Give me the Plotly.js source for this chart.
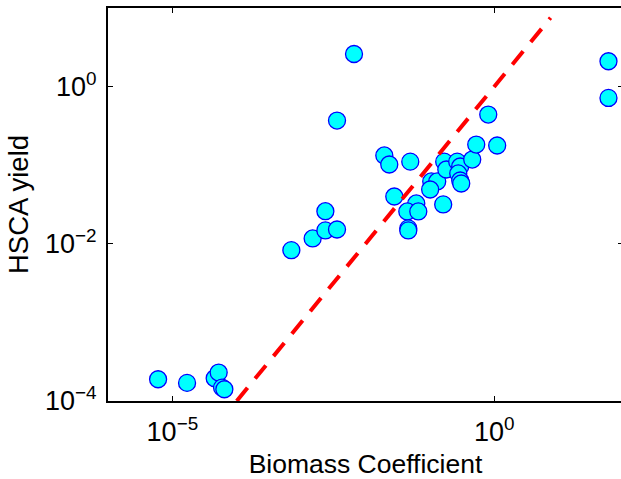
<!DOCTYPE html>
<html>
<head>
<meta charset="utf-8">
<script src="https://cdn.plot.ly/plotly-3.0.1.min.js"></script>
<style>
  html, body { margin: 0; padding: 0; overflow: hidden; background: #fff; }
  #chart { width: 630px; height: 479px; }
</style>
</head>
<body>
<div id="chart"></div>
<script>
// Biomass coefficient (x) and HSCA yield (y)
const biomass = [
  6.0e-6, 1.69e-5, 4.54e-5, 5.24e-5, 5.91e-5, 6.42e-5,
  7.05e-4, 1.51e-3, 2.38e-3, 3.61e-3, 2.38e-3,
  6.63e-3, 3.61e-3,
  59.5, 59.5,
  0.0196, 0.0234, 0.0496, 0.0280, 0.0615, 0.0446, 0.0661, 0.0462, 0.0462,
  0.161, 0.105, 0.130, 0.101, 0.167, 0.180, 0.266, 0.296, 0.276, 0.296, 0.307,
  0.455, 0.525, 1.11, 0.807
];
const hscaYield = [
  1.89e-4, 1.70e-4, 1.95e-4, 2.30e-4, 1.48e-4, 1.41e-4,
  8.3e-3, 1.17e-2, 1.48e-2, 1.52e-2, 2.60e-2,
  2.60, 0.370,
  2.10, 0.718,
  0.133, 0.102, 0.111, 0.0400, 0.0326, 0.0258, 0.0258, 0.0157, 0.0148,
  0.0317, 0.0621, 0.0621, 0.0491, 0.111, 0.0882, 0.111, 0.0963, 0.0785, 0.0639, 0.0585,
  0.118, 0.183, 0.178, 0.441
];
// reference line y = x
const lineX = [1e-4, 7.5];
const lineY = [1e-4, 7.5];

const xTickVals = [1e-5, 1];
const xTickText = ['10<sup>\u22125</sup>', '10<sup>0</sup>'];
const yTickVals = [1e-4, 1e-2, 1];
const yTickText = ['10<sup>\u22124</sup>', '10<sup>\u22122</sup>', '10<sup>0</sup>'];

const traces = [
  {
    x: biomass, y: hscaYield, type: 'scatter', mode: 'markers',
    marker: { size: 17, color: '#00ffff', line: { color: '#0000ff', width: 1.3 } },
    cliponaxis: false, hoverinfo: 'x+y'
  },
  {
    x: lineX, y: lineY, type: 'scatter', mode: 'lines',
    line: { color: '#ff0000', width: 4, dash: '17px,12px' }
  }
];

const fontFam = '"Liberation Sans", Arial, Helvetica, sans-serif';
const layout = {
  width: 630, height: 479,
  margin: { l: 108, r: 7, t: 8, b: 78 },
  paper_bgcolor: '#fff', plot_bgcolor: '#fff',
  showlegend: false,
  font: { family: fontFam, color: '#000', size: 27 },
  xaxis: {
    type: 'log', range: [-6, 2],
    tickmode: 'array', tickvals: xTickVals, ticktext: xTickText,
    ticks: 'inside', ticklen: 5, tickwidth: 1, tickcolor: '#000',
    showline: true, linecolor: '#000', linewidth: 2, mirror: 'ticks',
    showgrid: false, zeroline: false,
    tickfont: { size: 27 }, ticklabelstandoff: 6,
    title: { text: 'Biomass Coefficient', font: { size: 26.5 }, standoff: 10 },
    automargin: false
  },
  yaxis: {
    type: 'log', range: [-4, 1],
    tickmode: 'array', tickvals: yTickVals, ticktext: yTickText,
    ticks: 'inside', ticklen: 5, tickwidth: 1, tickcolor: '#000',
    showline: true, linecolor: '#000', linewidth: 2, mirror: 'ticks',
    showgrid: false, zeroline: false,
    tickfont: { size: 27 }, ticklabelstandoff: 4,
    title: { text: 'HSCA yield', font: { size: 27.5 }, standoff: 8 },
    automargin: false
  }
};

Plotly.newPlot('chart', traces, layout, { displayModeBar: false, staticPlot: true });
</script>
</body>
</html>
